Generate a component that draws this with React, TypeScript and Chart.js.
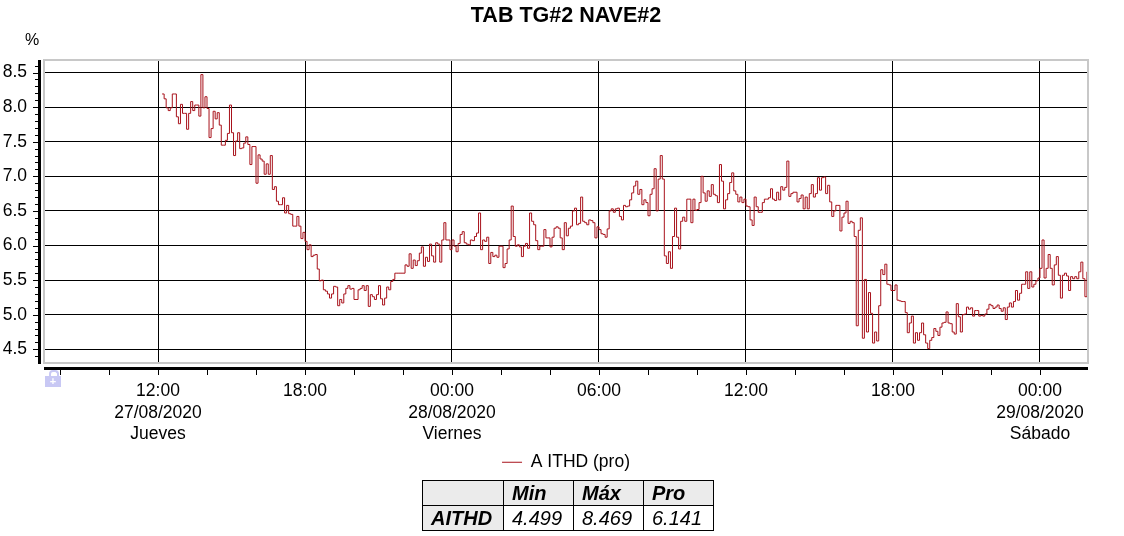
import React, { useEffect, useRef } from "react";
import { Chart, registerables } from "chart.js";

Chart.register(...registerables);

// ---- text ----
const TITLE = "TAB TG#2 NAVE#2";
const SERIES_LABEL = "A ITHD (pro)";
const Y_UNIT = "%";

// ---- time base (minutes from 27/08/2020 00:00), one reading every 5 minutes ----
const START_MIN = 730; // 27/08 12:10
const STEP_MIN = 5;
const X_MIN = 440.8;
const X_MAX = 2997.6;
const Y_MIN = 4.302;
const Y_MAX = 8.681;

// ---- series values (A ITHD %, 5-minute averages) ----
const ithdThu1210 = [
  8.19, 8.12, 7.99, 7.95, 7.99, 8.19, 8.19, 7.86, 7.76, 8.04,
  7.91, 7.91, 7.68, 7.91, 8.08, 7.95, 8.03, 8.03, 7.87, 8.47,
  7.99, 8.15, 7.98, 7.56, 7.69, 7.94, 7.83, 7.92, 7.74, 7.45,
  7.45, 7.52, 7.62, 8.03, 7.63, 7.30, 7.51, 7.63, 7.40, 7.41,
  7.48, 7.57, 7.46, 7.17, 7.43, 7.43, 6.90, 7.31, 7.25, 7.22,
  7.03, 7.18, 7.03, 7.30, 6.81, 6.85, 6.64, 6.59, 6.59, 6.69,
  6.47, 6.58, 6.46, 6.45, 6.28, 6.28, 6.42, 6.28, 6.10, 6.19,
  6.06, 5.94, 6.01, 5.84, 5.86,
];
const ithdThu1825 = [
  5.87, 5.66, 5.49, 5.50, 5.36, 5.34, 5.30, 5.24, 5.30, 5.41,
  5.40, 5.13, 5.22, 5.17, 5.30, 5.38, 5.42, 5.37, 5.38, 5.22,
  5.22, 5.36, 5.38, 5.42, 5.35, 5.42, 5.12, 5.29, 5.26, 5.22,
  5.29, 5.42, 5.23, 5.14, 5.24, 5.40, 5.36, 5.48, 5.51, 5.60,
  5.60, 5.60, 5.60, 5.60, 5.72, 5.70, 5.88, 5.67, 5.79, 5.71,
  5.78, 5.89, 5.98, 5.70, 5.83, 5.77, 6.02, 5.85, 5.76, 6.04,
  6.02, 5.76, 6.08, 6.33, 6.08, 6.08, 5.94, 6.08, 5.99, 5.91,
  6.03, 6.16, 6.20, 6.04, 6.02,
];
const ithdFri0040 = [
  6.01, 6.08, 6.07, 6.13, 6.18, 6.47, 5.94, 6.08, 6.06, 6.12,
  5.74, 5.90, 5.84, 5.86, 5.83, 5.99, 5.99, 5.68, 5.74, 5.95,
  6.08, 6.57, 6.13, 5.99, 6.01, 5.98, 5.84, 5.99, 6.03, 5.96,
  6.47, 6.35, 6.30, 6.07, 5.94, 5.99, 5.99, 6.23, 6.11, 6.11,
  5.98, 6.12, 6.25, 6.27, 6.25, 6.11, 5.94, 6.33, 6.14, 6.25,
  6.28, 6.50, 6.54, 6.30, 6.32, 6.70, 6.35, 6.33, 6.30, 6.37,
  6.36, 6.33, 6.11, 6.27, 6.23, 6.17, 6.16, 6.12, 6.24, 6.50,
  6.53, 6.48, 6.53, 6.54, 6.42, 6.37, 6.58,
];
const ithdFri0705 = [
  6.56, 6.57, 6.66, 6.76, 6.86, 6.93, 6.74, 6.81, 6.59, 6.66,
  6.62, 6.43, 6.74, 6.82, 7.11, 6.50, 6.96, 7.30, 6.96,
];
const ithdFri0840 = [
  5.85, 5.74, 5.91, 5.67, 6.13, 6.54, 6.12, 5.95, 6.35, 6.41,
  6.35, 6.67, 6.67, 6.33, 6.67, 6.51, 6.52, 6.62, 7.00, 6.76,
  6.64, 6.79, 6.71, 6.88, 6.74, 6.72, 6.62, 7.17, 6.93, 6.53,
  6.66, 6.75, 6.91, 7.05, 6.79, 6.74, 6.63, 6.70, 6.62, 6.67,
  6.57, 6.56, 6.37, 6.29, 6.70, 6.56, 6.48, 6.48, 6.62, 6.67,
  6.67, 6.69, 6.82, 6.67, 6.65,
];
const ithdFri1315 = [
  6.77, 6.66, 6.85, 6.80, 6.84, 7.22, 6.71, 6.75, 6.77, 6.77,
  6.63, 6.68, 6.73, 6.53, 6.70, 6.53, 6.75, 6.88, 6.70, 6.75,
  6.98, 6.80, 6.98, 6.99, 6.75, 6.87, 6.63, 6.42, 6.50, 6.58,
  6.58, 6.21, 6.41, 6.47, 6.64, 6.32, 6.35, 6.33, 6.13,
];
const ithdFri1630 = [
  4.84, 6.22, 6.40, 4.66, 5.51, 4.75, 5.32, 5.02, 4.59, 4.75,
  4.62, 5.13, 5.65, 5.58, 5.73, 5.44, 5.43, 5.35, 5.35, 5.43,
  5.21, 5.20, 5.19, 5.19, 5.03, 4.74, 4.88, 4.98, 4.59, 4.74,
  4.63, 4.74, 4.88, 4.71,
];
const ithdFri1920 = [
  4.59, 4.51, 4.63, 4.67, 4.80, 4.76, 4.70, 4.82, 4.88, 4.89,
  5.04, 4.88, 4.87, 4.75, 4.72, 5.16, 4.97, 4.75, 5.00, 5.01,
  5.11, 5.08, 5.10, 4.98, 5.06, 5.06, 4.98, 4.99, 4.98, 5.01,
  5.08, 5.15, 5.13, 5.09, 5.11, 5.14, 5.09, 5.05, 5.10, 4.93,
  5.11, 5.17, 5.11, 5.19, 5.35, 5.21, 5.31, 5.44, 5.44, 5.62,
  5.38, 5.62, 5.40, 5.44, 5.49, 5.53, 5.67, 6.08, 5.53, 5.67,
  5.87, 5.67, 5.43, 5.72, 5.84, 5.57, 5.24, 5.57, 5.60, 5.56,
  5.35, 5.55, 5.52, 5.55, 5.52, 5.62, 5.76, 5.52, 5.26, 5.62,
];

// ---- tick labels ----
const xTickMinutes = [720, 1080, 1440, 1800, 2160, 2520, 2880];
const xTickLabels = [
  ["12:00", "27/08/2020", "Jueves"],
  ["18:00"],
  ["00:00", "28/08/2020", "Viernes"],
  ["06:00"],
  ["12:00"],
  ["18:00"],
  ["00:00", "29/08/2020", "Sábado"],
];
const yTickValues = [4.5, 5.0, 5.5, 6.0, 6.5, 7.0, 7.5, 8.0, 8.5];
const yTickLabels = ["4.5", "5.0", "5.5", "6.0", "6.5", "7.0", "7.5", "8.0", "8.5"];

// ---- statistics table ----
const statsHeader = ["", "Min", "Máx", "Pro"];
const statsRow = ["AITHD", "4.499", "8.469", "6.141"];

const LINE_COLOR = "#a8121b";
const FONT = "'Liberation Sans', Arial, sans-serif";

const allValues = [
  ...ithdThu1210,
  ...ithdThu1825,
  ...ithdFri0040,
  ...ithdFri0705,
  ...ithdFri0840,
  ...ithdFri1315,
  ...ithdFri1630,
  ...ithdFri1920,
];

const isMajorY = (v: number) => yTickValues.some((t) => Math.abs(t - v) < 1e-6);

const axisDecor = {
  id: "axisDecor",
  afterDraw(chart: any) {
    const { ctx, chartArea: a, scales } = chart;
    ctx.save();
    // plot frame
    ctx.strokeStyle = "#c8c8c8";
    ctx.lineWidth = 2;
    ctx.strokeRect(a.left, a.top, a.right - a.left, a.bottom - a.top);
    // heavy axis lines
    ctx.fillStyle = "#000";
    ctx.fillRect(a.left - 6, a.top, 3, a.bottom - a.top + 1);
    ctx.fillRect(a.left, a.bottom + 4, a.right - a.left, 3);
    // tick marks
    ctx.strokeStyle = "#000";
    ctx.lineWidth = 1;
    for (const t of scales.y.ticks) {
      const y = Math.round(scales.y.getPixelForValue(t.value)) + 0.5;
      const len = isMajorY(t.value) ? 5 : 3;
      ctx.beginPath();
      ctx.moveTo(a.left - 6, y);
      ctx.lineTo(a.left - 6 - len, y);
      ctx.stroke();
    }
    for (const t of scales.x.ticks) {
      const x = Math.round(scales.x.getPixelForValue(t.value)) + 0.5;
      ctx.beginPath();
      ctx.moveTo(x, a.bottom + 7);
      ctx.lineTo(x, a.bottom + 12);
      ctx.stroke();
    }
    // unit label
    ctx.fillStyle = "#000";
    ctx.font = `16px ${FONT}`;
    ctx.textAlign = "left";
    ctx.textBaseline = "middle";
    ctx.fillText(Y_UNIT, 25, 41);
    ctx.restore();
  },
};

export default function App() {
  const canvasRef = useRef<HTMLCanvasElement | null>(null);

  useEffect(() => {
    if (!canvasRef.current) return;
    const data = allValues.map((v, i) => ({ x: START_MIN + i * STEP_MIN, y: v }));
    const chart = new Chart(canvasRef.current, {
      type: "line",
      data: {
        datasets: [
          {
            label: SERIES_LABEL,
            data,
            borderColor: LINE_COLOR,
            backgroundColor: LINE_COLOR,
            borderWidth: 1,
            pointRadius: 0,
            stepped: true,
            fill: false,
          },
        ],
      },
      options: {
        animation: false,
        responsive: true,
        maintainAspectRatio: false,
        devicePixelRatio: 1,
        parsing: false,
        layout: { padding: { left: 0, right: 36, top: 0, bottom: 0 } },
        font: { family: FONT },
        scales: {
          x: {
            type: "linear",
            min: X_MIN,
            max: X_MAX,
            afterBuildTicks: (scale: any) => {
              const ticks = [];
              for (let m = 480; m <= X_MAX; m += 120) ticks.push({ value: m });
              scale.ticks = ticks;
            },
            afterFit: (scale: any) => {
              scale.height = 80.5;
            },
            border: { display: false },
            grid: {
              drawTicks: false,
              lineWidth: 1,
              color: (c: any) =>
                c.tick && xTickMinutes.includes(c.tick.value) ? "#000" : "rgba(0,0,0,0)",
            },
            ticks: {
              autoSkip: false,
              maxRotation: 0,
              minRotation: 0,
              padding: 17.5,
              color: "#000",
              font: { family: FONT, size: 17.5, lineHeight: 1.23 },
              callback: (value: any) => {
                const i = xTickMinutes.indexOf(Number(value));
                return i >= 0 ? xTickLabels[i] : "";
              },
            },
          },
          y: {
            type: "linear",
            min: Y_MIN,
            max: Y_MAX,
            afterBuildTicks: (scale: any) => {
              const ticks = [];
              for (let k = 44; k <= 86; k++) ticks.push({ value: k / 10 });
              scale.ticks = ticks;
            },
            afterFit: (scale: any) => {
              scale.width = 44;
            },
            border: { display: false },
            grid: {
              drawTicks: false,
              lineWidth: 1,
              color: (c: any) => (c.tick && isMajorY(c.tick.value) ? "#000" : "rgba(0,0,0,0)"),
            },
            ticks: {
              autoSkip: false,
              padding: 17,
              color: "#000",
              font: { family: FONT, size: 17.5, lineHeight: 1.2 },
              callback: (value: any) => {
                const i = yTickValues.findIndex((t) => Math.abs(t - Number(value)) < 1e-6);
                return i >= 0 ? yTickLabels[i] : "";
              },
            },
          },
        },
        plugins: {
          title: {
            display: true,
            text: TITLE,
            fullSize: false,
            color: "#000",
            font: {
              family: FONT,
              size: 21.5,
              weight: "bold",
              lineHeight: 1.2,
            },
            padding: { top: 3.5, bottom: 30.7 },
          },
          legend: {
            display: true,
            position: "bottom",
            fullSize: false,
            labels: {
              usePointStyle: true,
              pointStyle: "line",
              pointStyleWidth: 20,
              padding: 10,
              color: "#000",
              font: { family: FONT, size: 17.5 },
            },
          },
          tooltip: { enabled: false },
        },
      },
      plugins: [axisDecor],
    } as any);
    return () => chart.destroy();
  }, []);

  const cellBase: React.CSSProperties = {
    border: "1px solid #000",
    height: 24,
    padding: "0 0 0 8px",
    fontSize: 20,
    fontStyle: "italic",
    textAlign: "left",
    verticalAlign: "middle",
    lineHeight: "24px",
    whiteSpace: "nowrap",
  };
  const widths = [81, 70, 70, 70];

  return (
    <div
      style={{
        position: "fixed",
        left: 0,
        top: 0,
        width: 1124,
        height: 536,
        background: "#fff",
        fontFamily: FONT,
        overflow: "hidden",
      }}
    >
      <div style={{ position: "absolute", left: 0, top: 0, width: 1124, height: 481 }}>
        <canvas ref={canvasRef} />
      </div>
      {/* small lock marker under the axis origin */}
      <div
        style={{
          position: "absolute",
          left: 49,
          top: 370,
          width: 6,
          height: 5,
          border: "2px solid #c8c8f4",
          borderBottom: "none",
          borderRadius: "4px 4px 0 0",
        }}
      />
      <div
        style={{
          position: "absolute",
          left: 45,
          top: 376,
          width: 16,
          height: 11,
          background: "#c8c8f4",
          color: "#fff",
          fontSize: 11,
          fontWeight: "bold",
          lineHeight: "11px",
          textAlign: "center",
        }}
      >
        +
      </div>
      <table
        style={{
          position: "absolute",
          left: 422,
          top: 480,
          borderCollapse: "collapse",
          tableLayout: "fixed",
          fontFamily: FONT,
          color: "#000",
        }}
      >
        <tbody>
          <tr>
            {statsHeader.map((h, i) => (
              <td
                key={i}
                style={{ ...cellBase, width: widths[i] - 9, background: "#ebebeb", fontWeight: "bold" }}
              >
                {h}
              </td>
            ))}
          </tr>
          <tr>
            {statsRow.map((v, i) => (
              <td
                key={i}
                style={{
                  ...cellBase,
                  width: widths[i] - 9,
                  background: i === 0 ? "#ebebeb" : "#fff",
                  fontWeight: i === 0 ? "bold" : "normal",
                }}
              >
                {v}
              </td>
            ))}
          </tr>
        </tbody>
      </table>
    </div>
  );
}
